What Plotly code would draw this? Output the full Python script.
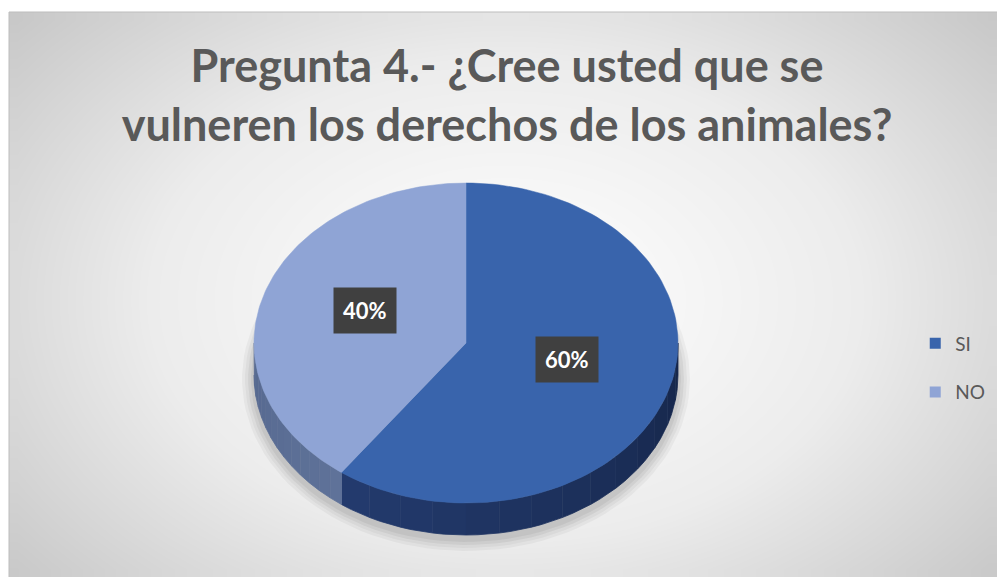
import numpy as np
import plotly.graph_objects as go

# data
categories = ["SI", "NO"]
values = [60, 40]
label_text = ["60%", "40%"]

title_text = "Pregunta 4.- ¿Cree usted que se<br>vulneren los derechos de los animales?"

# styling
top_colors = ["#3964ac", "#8fa4d5"]
side_colors = [("#243b6e", "#15264a"), ("#55688f", "#5f7299")]
W, H = 997, 577
cx, cy = 466, 343
rx, ry = 212, 160
depth = 32
font_main = "Lato"


def ellipse_pts(a_from, a_to, n=80, dy=0.0):
    t = np.radians(np.linspace(a_from, a_to, n))
    return cx + rx * np.cos(t), cy - ry * np.sin(t) + dy


def mix(c1, c2, f):
    a = [int(c1[i:i + 2], 16) for i in (1, 3, 5)]
    b = [int(c2[i:i + 2], 16) for i in (1, 3, 5)]
    return "rgb(%d,%d,%d)" % tuple(round(a[k] + (b[k] - a[k]) * f) for k in range(3))


fig = go.Figure()

# background with soft radial gradient
nx, ny = 60, 36
dx = (W - 9) / nx
dyc = (H - 12) / ny
bx = 9 + dx / 2 + dx * np.arange(nx)
by = 12 + dyc / 2 + dyc * np.arange(ny)
BX, BY = np.meshgrid(bx, by)
bz = np.sqrt(((BX - 505) / 620) ** 2 + ((BY - 300) / 420) ** 2)
fig.add_trace(go.Heatmap(
    x=bx, y=by, z=bz, zsmooth="best", showscale=False, hoverinfo="skip",
    colorscale=[[0, "#ffffff"], [0.55, "#ececec"], [1, "#c8c8c8"]],
))

# soft shadow under the pie
for k, op in enumerate([0.04, 0.04, 0.05, 0.05]):
    grow = 12 - k * 3
    sx, sy = ellipse_pts(0, 360, 120, dy=depth + 4)
    sx = cx + (sx - cx) * (1 + grow / rx)
    sy = (cy + depth + 4) + (sy - cy - depth - 4) * (1 + grow / ry)
    fig.add_trace(go.Scatter(
        x=sx, y=sy, fill="toself", mode="lines", line=dict(width=0),
        fillcolor="rgba(0,0,0,%.2f)" % op, hoverinfo="skip", showlegend=False,
    ))

# slice angles: start at 12 o'clock, clockwise
total = sum(values)
angles = []
start = 90.0
for v in values:
    end = start - v / total * 360.0
    angles.append((start, end))
    start = end

# walls (front half only)
for i, (a0, a1) in enumerate(angles):
    hi, lo = a0, a1
    for shift in (0, 360, -360):
        s_lo = max(lo + shift, -180)
        s_hi = min(hi + shift, 0)
        if s_hi <= s_lo:
            continue
        nstrip = 14
        edges = np.linspace(s_lo, s_hi, nstrip + 1)
        for k in range(nstrip):
            col = mix(side_colors[i][0], side_colors[i][1], (k + 0.5) / nstrip)
            tx, ty = ellipse_pts(edges[k], edges[k + 1], 12)
            px_ = np.concatenate([tx, tx[::-1]])
            py_ = np.concatenate([ty, ty[::-1] + depth])
            fig.add_trace(go.Scatter(
                x=px_, y=py_, fill="toself", mode="lines",
                line=dict(width=0.8, color=col), fillcolor=col,
                hoverinfo="skip", showlegend=False,
            ))

# tops
for i, (a0, a1) in enumerate(angles):
    ax, ay = ellipse_pts(a0, a1, 120)
    fig.add_trace(go.Scatter(
        x=np.concatenate([[cx], ax, [cx]]), y=np.concatenate([[cy], ay, [cy]]),
        fill="toself", mode="lines", line=dict(width=0.5, color=top_colors[i]),
        fillcolor=top_colors[i], name=categories[i],
        hovertemplate=f"{categories[i]}: {label_text[i]}<extra></extra>",
        showlegend=False,
    ))

# data labels
for i, (a0, a1) in enumerate(angles):
    mid = np.radians((a0 + a1) / 2)
    lx = cx + 0.5 * rx * np.cos(mid)
    ly = cy - 0.5 * ry * np.sin(mid) - 8
    fig.add_annotation(
        x=lx, y=ly, xref="x", yref="y", text=f"<b>{label_text[i]}</b>",
        showarrow=False, bgcolor="#404040", borderpad=9,
        font=dict(family=font_main, size=22, color="white"),
    )

# legend entries
for i, c in enumerate(categories):
    fig.add_trace(go.Scatter(
        x=[None], y=[None], mode="markers", name=c, legendgroup=c,
        marker=dict(symbol="square", size=11, color=top_colors[i]),
    ))

fig.add_shape(type="rect", x0=9, y0=12, x1=W + 2, y1=H + 2,
              line=dict(color="#bdbdbd", width=1), xref="x", yref="y")

fig.update_layout(
    width=W, height=H,
    margin=dict(l=0, r=0, t=0, b=0),
    paper_bgcolor="white", plot_bgcolor="white",
    title=dict(text=f"<b>{title_text}</b>", x=507 / W, y=1 - 82 / H,
               xanchor="center", yanchor="middle",
               font=dict(family=font_main, size=45, color="#595959")),
    xaxis=dict(range=[0, W], visible=False, fixedrange=True),
    yaxis=dict(range=[H, 0], visible=False, fixedrange=True),
    legend=dict(x=0.918, y=1 - 368 / H, xanchor="left", yanchor="middle",
                font=dict(family=font_main, size=19, color="#595959"),
                tracegroupgap=21, itemwidth=30, bgcolor="rgba(0,0,0,0)"),
    showlegend=True,
)

fig.write_html("out.html", config={"displayModeBar": False},
               post_script="document.body.style.margin='0';")
